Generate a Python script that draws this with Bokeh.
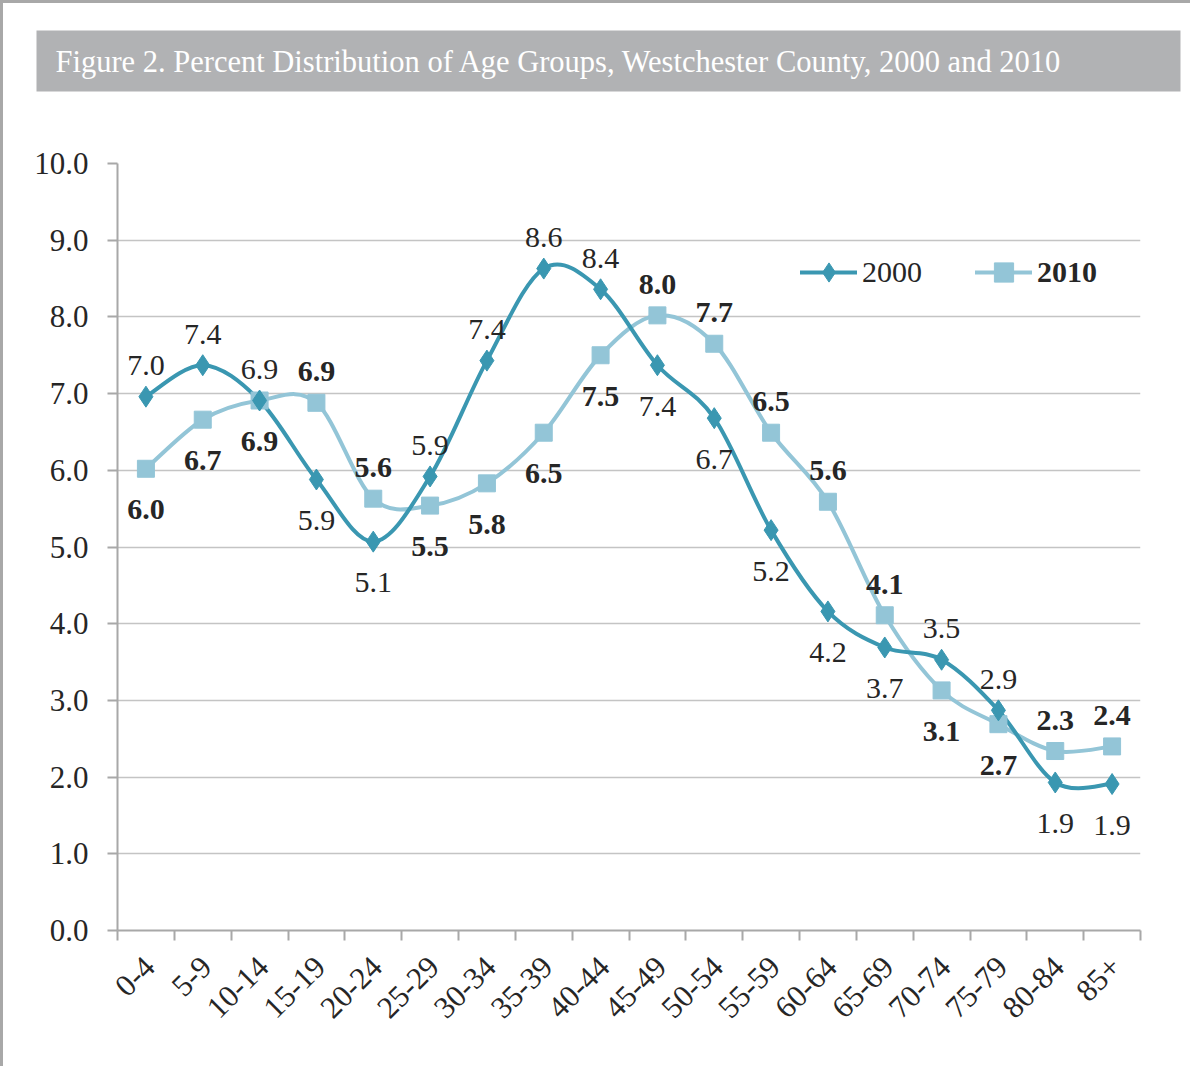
import math
from bokeh.plotting import figure
from bokeh.models import (ColumnDataSource, FixedTicker, Legend, LegendItem,
                          NumeralTickFormatter, Range1d, Title)
from bokeh.core.properties import value
from bokeh.embed import file_html
from bokeh.resources import INLINE

# ---------------- data ----------------
age_groups = ["0-4", "5-9", "10-14", "15-19", "20-24", "25-29", "30-34", "35-39", "40-44",
              "45-49", "50-54", "55-59", "60-64", "65-69", "70-74", "75-79", "80-84", "85+"]
pct_2000 = [6.96, 7.37, 6.91, 5.88, 5.07, 5.92, 7.43, 8.63, 8.36, 7.37, 6.68, 5.22,
            4.16, 3.69, 3.53, 2.87, 1.93, 1.91]
pct_2010 = [6.02, 6.66, 6.91, 6.88, 5.63, 5.54, 5.83, 6.49, 7.50, 8.02, 7.65, 6.49,
            5.59, 4.11, 3.13, 2.69, 2.34, 2.40]
y_ticks = [0, 1, 2, 3, 4, 5, 6, 7, 8, 9, 10]
title_text = "Figure 2. Percent Distribution of Age Groups, Westchester County, 2000 and 2010"

# label placement (style): "a" = above the point, "b" = below the point
place_2000 = ["a", "a", "a", "b", "b", "a", "a", "a", "a", "b", "b", "b", "b", "b", "a", "a", "b", "b"]
place_2010 = ["b", "b", "b", "a", "a", "b", "b", "b", "b", "a", "a", "a", "a", "a", "b", "b", "a", "a"]

# ---------------- style ----------------
FONT = "Liberation Serif"
C2000 = "#3a97b1"
C2010 = "#93c5d7"
GRAY = "#a8a8a8"
TXT = "#262626"
BAR = "#b1b2b4"

W, H = 1190, 1066
p = figure(width=W, height=H, output_backend="svg", toolbar_location=None,
           x_range=Range1d(0, len(age_groups)), y_range=Range1d(0, 10),
           min_border_left=114, min_border_right=53, min_border_top=160, min_border_bottom=139)
p.outline_line_color = None
p.styles = {"border-left": "3px solid #a8a8a8", "border-top": "3px solid #a8a8a8"}
p.title.text = ""
p.title.standoff = 0

# spacer between the title bar and the plotting area (closest to the frame)
p.add_layout(Title(text=" ", standoff=69, text_font_size="1px", text_color="white"), "above")

# title bar
title_kw = dict(text=title_text, align="left", vertical_align="bottom", offset=-81, standoff=0,
                text_font=FONT, text_font_size="30.5px", text_font_style="normal",
                text_color="white", background_fill_color=BAR, border_line_color=None)
try:
    ttl = Title(padding=dict(left=19, right=118, top=14, bottom=13), **title_kw)
except Exception:
    ttl = Title(**title_kw)
p.add_layout(ttl, "above")

xs = [i + 0.5 for i in range(len(age_groups))]


def bezier_parts(xv, yv):
    n = len(xv)
    out = {k: [] for k in ("x0", "y0", "x1", "y1", "cx0", "cy0", "cx1", "cy1")}
    for i in range(n - 1):
        im, ip2 = max(i - 1, 0), min(i + 2, n - 1)
        out["x0"].append(xv[i]); out["y0"].append(yv[i])
        out["x1"].append(xv[i + 1]); out["y1"].append(yv[i + 1])
        out["cx0"].append(xv[i] + (xv[i + 1] - xv[im]) / 6.0)
        out["cy0"].append(yv[i] + (yv[i + 1] - yv[im]) / 6.0)
        out["cx1"].append(xv[i + 1] - (xv[ip2] - xv[i]) / 6.0)
        out["cy1"].append(yv[i + 1] - (yv[ip2] - yv[i]) / 6.0)
    return ColumnDataSource(out)


b10 = p.bezier(x0="x0", y0="y0", x1="x1", y1="y1", cx0="cx0", cy0="cy0", cx1="cx1", cy1="cy1",
               source=bezier_parts(xs, pct_2010), line_color=C2010, line_width=4, line_cap="round")
b00 = p.bezier(x0="x0", y0="y0", x1="x1", y1="y1", cx0="cx0", cy0="cy0", cx1="cx1", cy1="cy1",
               source=bezier_parts(xs, pct_2000), line_color=C2000, line_width=4, line_cap="round")

src10 = ColumnDataSource(dict(x=xs, y=pct_2010, lab=[f"{v:.1f}" for v in pct_2010],
                              dy=[-31 if s == "a" else 41 for s in place_2010]))
src00 = ColumnDataSource(dict(x=xs, y=pct_2000, lab=[f"{v:.1f}" for v in pct_2000],
                              dy=[-31 if s == "a" else 41 for s in place_2000]))

m10 = p.scatter("x", "y", source=src10, marker="square", size=17, color=C2010)
m00 = p.scatter("x", "y", source=src00, marker="diamond", size=21, color=C2000)

p.text("x", "y", text="lab", source=src00, y_offset="dy", text_align="center",
       text_baseline="middle", text_font=value(FONT), text_font_size="30px", text_color=TXT)
p.text("x", "y", text="lab", source=src10, y_offset="dy", text_align="center",
       text_baseline="middle", text_font=value(FONT), text_font_size="30px", text_color=TXT,
       text_font_style="bold")

# legend (two separate legends so that only "2010" is bold)
for items, loc, style in (([LegendItem(label="2000", renderers=[b00, m00])], (683, 634), "normal"),
                          ([LegendItem(label="2010", renderers=[b10, m10])], (858, 634), "bold")):
    lg = Legend(items=items, location=loc, orientation="horizontal",
                label_text_font=FONT, label_text_font_size="30px", label_text_color=TXT,
                label_text_font_style=style, glyph_width=57, glyph_height=48, label_height=30,
                label_standoff=5, padding=0, margin=0, spacing=0,
                border_line_color=None, background_fill_alpha=0)
    p.add_layout(lg)

# axes
p.xgrid.visible = False
p.ygrid.grid_line_color = "#c4c4c4"
p.ygrid.grid_line_width = 1.5

yax = p.yaxis[0]
yax.ticker = FixedTicker(ticks=y_ticks)
yax.formatter = NumeralTickFormatter(format="0.0")
yax.axis_line_color = GRAY
yax.axis_line_width = 2
yax.major_tick_line_color = GRAY
yax.major_tick_line_width = 2
yax.major_tick_out = 10
yax.major_tick_in = 0
yax.minor_tick_line_color = None
yax.major_label_standoff = 19
yax.major_label_text_font = FONT
yax.major_label_text_font_size = "31px"
yax.major_label_text_color = TXT

label_pos = [x + 0.06 for x in xs]
xax = p.xaxis[0]
xax.ticker = FixedTicker(ticks=label_pos, minor_ticks=list(range(len(age_groups) + 1)))
xax.major_label_overrides = {x: lab for x, lab in zip(label_pos, age_groups)}
xax.axis_line_color = GRAY
xax.axis_line_width = 2
xax.major_tick_line_color = None
xax.major_tick_out = 0
xax.major_tick_in = 0
xax.minor_tick_line_color = GRAY
xax.minor_tick_line_width = 2
xax.minor_tick_out = 10
xax.minor_tick_in = 0
xax.major_label_orientation = math.pi / 4
xax.major_label_standoff = 21
xax.major_label_text_font = FONT
xax.major_label_text_font_size = "31px"
xax.major_label_text_color = TXT

open("out.html", "w").write(file_html(p, INLINE))
